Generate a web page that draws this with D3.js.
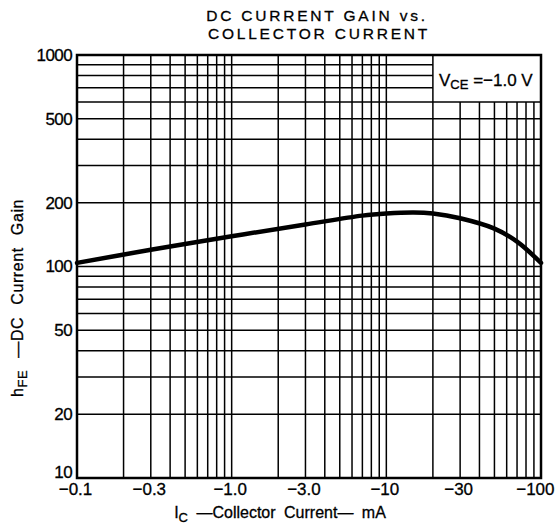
<!DOCTYPE html>
<html><head><meta charset="utf-8">
<script src="https://cdn.jsdelivr.net/npm/d3@7/dist/d3.min.js"></script>
<style>
html,body{margin:0;padding:0;background:#fff;}
svg{display:block;}
text{font-family:"Liberation Sans",Arial,Helvetica,sans-serif;fill:#000;stroke:#000;stroke-width:0.3px;}
</style></head>
<body>
<svg id="c" width="555" height="529"></svg>
<script>
// Data
const icValues  = [0.1, 0.3, 1.0, 3.0, 7.0, 10, 15, 20, 30, 50, 70, 100];
const hfeValues = [104, 120, 139, 158, 174, 178, 180, 178, 169, 151, 131, 104];
const xTickValues = [0.1, 0.3, 1, 3, 10, 30, 100];
const xTickLabels = ["\u22120.1", "\u22120.3", "\u22121.0", "\u22123.0", "\u221210", "\u221230", "\u2212100"];
const yTickValues = [10, 20, 50, 100, 200, 500, 1000];
const yTickLabels = ["10", "20", "50", "100", "200", "500", "1000"];
const xGridValues = [0.2,0.3,0.4,0.5,0.6,0.7,0.8,0.9,1,2,3,4,5,6,7,8,9,10,20,30,40,50,60,70,80,90];
const yGridValues = [20,30,40,50,60,70,80,90,100,200,300,400,500,600,700,800,900];
const boxCorner = {ic: 20, hfe: 600};

const svg = d3.select("#c");
const x = d3.scaleLog().domain([0.1, 100]).range([77, 541]);
const y = d3.scaleLog().domain([10, 1000]).range([478, 55]);

const grid = svg.append("g").attr("stroke", "#000").attr("stroke-width", 1.5);
grid.selectAll("line.v").data(xGridValues).enter().append("line")
  .attr("x1", d => x(d)).attr("x2", d => x(d))
  .attr("y1", d => d > boxCorner.ic ? y(boxCorner.hfe) : y(1000))
  .attr("y2", y(10));
grid.selectAll("line.h").data(yGridValues).enter().append("line")
  .attr("y1", d => y(d)).attr("y2", d => y(d))
  .attr("x1", x(0.1))
  .attr("x2", d => d > boxCorner.hfe ? x(boxCorner.ic) : x(100));

svg.append("rect")
  .attr("x", x(0.1)).attr("y", y(1000))
  .attr("width", x(100) - x(0.1)).attr("height", y(10) - y(1000))
  .attr("fill", "none").attr("stroke", "#000").attr("stroke-width", 2.5);

const line = d3.line().x((d, i) => x(icValues[i])).y(d => y(d)).curve(d3.curveCatmullRom.alpha(0.5));
svg.append("path").datum(hfeValues)
  .attr("d", line).attr("fill", "none").attr("stroke", "#000")
  .attr("stroke-width", 4.5).attr("stroke-linecap", "round");

// axes
const xAxis = d3.axisBottom(x).tickValues(xTickValues)
  .tickFormat((d, i) => xTickLabels[i]).tickSize(0).tickPadding(5);
const gx = svg.append("g").attr("transform", `translate(0,${y(10)})`).call(xAxis);
gx.select(".domain").remove();
gx.selectAll("text").attr("font-size", 17).attr("font-family", "Liberation Sans, Arial, sans-serif")
  .attr("text-anchor", (d, i) => i === xTickValues.length - 1 ? "end" : "middle")
  .attr("dx", (d, i) => i === xTickValues.length - 1 ? 13 : -2);

const yAxis = d3.axisLeft(y).tickValues(yTickValues)
  .tickFormat((d, i) => yTickLabels[i]).tickSize(0).tickPadding(5);
const gy = svg.append("g").attr("transform", `translate(${x(0.1)},0)`).call(yAxis);
gy.select(".domain").remove();
gy.selectAll("text").attr("font-size", 17).attr("letter-spacing", -0.6)
  .attr("font-family", "Liberation Sans, Arial, sans-serif")
  .attr("dy", (d, i) => i === 0 ? "-0.05em" : "0.32em");

// title
const t = svg.append("text").attr("text-anchor", "middle").attr("font-size", 15.5)
  .attr("letter-spacing", 2.8);
t.append("tspan").attr("x", 317).attr("y", 21).text("DC CURRENT GAIN vs.");
t.append("tspan").attr("x", 319).attr("y", 39).text("COLLECTOR CURRENT");

// legend text in box
const lg = svg.append("text").attr("x", 439).attr("y", 86).attr("font-size", 17);
lg.append("tspan").text("V");
lg.append("tspan").attr("font-size", 13).attr("dy", 3).text("CE");
lg.append("tspan").attr("dy", -3).text(" =\u22121.0  V");

// x axis title
const xt = svg.append("text").attr("x", 280).attr("y", 518).attr("text-anchor", "middle")
  .attr("font-size", 16).attr("word-spacing", 4);
xt.append("tspan").text("I");
xt.append("tspan").attr("font-size", 13).attr("dy", 4).text("C");
xt.append("tspan").attr("dy", -4).text(" \u2014Collector  Current\u2014 mA");

// y axis title
const yt = svg.append("text").attr("transform", "translate(23,298) rotate(-90)")
  .attr("text-anchor", "middle").attr("font-size", 16).attr("word-spacing", 7).attr("letter-spacing", 0.6);
yt.append("tspan").text("h");
yt.append("tspan").attr("font-size", 13).attr("dy", 4).text("FE");
yt.append("tspan").attr("dy", -4).text(" \u2014DC Current Gain");
</script>
</body></html>
